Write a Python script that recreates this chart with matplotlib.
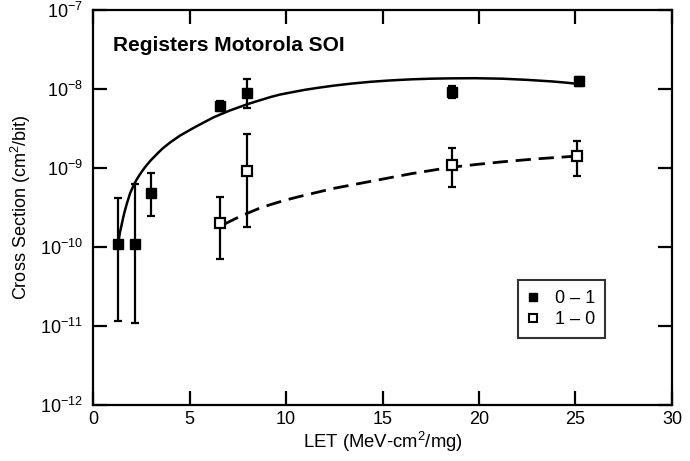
import matplotlib
matplotlib.use("Agg")
import matplotlib.pyplot as plt
from matplotlib.ticker import FixedLocator
from matplotlib.lines import Line2D

plt.rcParams['font.family'] = ['Liberation Sans', 'DejaVu Sans']
plt.rcParams['mathtext.fontset'] = 'custom'
plt.rcParams['mathtext.rm'] = 'Liberation Sans'
plt.rcParams['mathtext.it'] = 'Liberation Sans:italic'
plt.rcParams['mathtext.bf'] = 'Liberation Sans:bold'

# Series "0 - 1" (filled squares)
let_01 = [1.3, 2.2, 3.0, 6.6, 8.0, 18.6, 25.2]
cs_01 = [1.1e-10, 1.1e-10, 4.9e-10, 6.1e-9, 8.8e-9, 9.2e-9, 1.26e-8]
lo_01 = [1.15e-11, 1.1e-11, 2.5e-10, 5.3e-9, 5.7e-9, 7.8e-9, 1.1e-8]
hi_01 = [4.2e-10, 6.3e-10, 8.7e-10, 7.0e-9, 1.34e-8, 1.08e-8, 1.42e-8]

# Series "1 - 0" (open squares)
let_10 = [6.6, 8.0, 18.6, 25.1]
cs_10 = [2.0e-10, 9.1e-10, 1.1e-9, 1.42e-9]
lo_10 = [7.0e-11, 1.8e-10, 5.7e-10, 7.9e-10]
hi_10 = [4.3e-10, 2.7e-9, 1.8e-9, 2.2e-9]

# Fit curves
fit01_x = [1.3, 1.4, 1.5, 1.57, 1.65, 1.75, 1.92, 2.1, 2.25, 2.43, 2.6, 2.77, 3.0, 3.2, 3.4,
           3.64, 4.0, 4.5, 5.0, 5.37, 5.8, 6.23, 6.65, 7.1, 7.5, 7.95, 8.4, 8.8, 9.2, 9.67,
           10.3, 11.0, 11.7, 12.5, 13.4, 14.35, 15.4, 16.5, 17.5, 18.5, 19.8, 21.2, 22.5,
           23.8, 24.5, 25.1]
fit01_y = [1.10e-10, 1.55e-10, 2.0e-10, 2.4e-10, 2.88e-10, 3.52e-10, 4.79e-10, 6.03e-10,
           7.08e-10, 8.32e-10, 9.55e-10, 1.084e-9, 1.259e-9, 1.413e-9, 1.585e-9, 1.799e-9,
           2.113e-9, 2.57e-9, 3.02e-9, 3.39e-9, 3.85e-9, 4.37e-9, 4.84e-9, 5.37e-9, 5.82e-9,
           6.38e-9, 6.92e-9, 7.41e-9, 7.94e-9, 8.51e-9, 9.12e-9, 9.82e-9, 1.042e-8, 1.109e-8,
           1.175e-8, 1.236e-8, 1.288e-8, 1.33e-8, 1.355e-8, 1.368e-8, 1.374e-8, 1.355e-8,
           1.309e-8, 1.250e-8, 1.208e-8, 1.167e-8]
fit10_x = [6.8, 7.4, 8.0, 8.6, 9.2, 10.0, 11.0, 12.5, 14.4, 16.5, 18.5, 20.0, 21.2, 23.0, 25.1]
fit10_y = [1.95e-10, 2.3e-10, 2.68e-10, 3.08e-10, 3.45e-10, 3.95e-10, 4.55e-10, 5.55e-10,
           6.8e-10, 8.5e-10, 1.02e-9, 1.12e-9, 1.2e-9, 1.31e-9, 1.42e-9]

title_text = "Registers Motorola SOI"
legend_labels = ['0 – 1', '1 – 0']
x_ticks = [0, 5, 10, 15, 20, 25, 30]
y_decades = [-12, -11, -10, -9, -8, -7]

fig = plt.figure(figsize=(6.9, 4.61), dpi=100)
ax = fig.add_axes([0.1348, 0.1215, 0.9739 - 0.1348, 0.978 - 0.1215])

ax.plot(fit01_x, fit01_y, color='black', lw=1.8, solid_capstyle='round', solid_joinstyle='round')
ax.plot(fit10_x, fit10_y, color='black', lw=2.0, dashes=(5.5, 2.8))

err01 = [[c - l for c, l in zip(cs_01, lo_01)], [h - c for c, h in zip(cs_01, hi_01)]]
err10 = [[c - l for c, l in zip(cs_10, lo_10)], [h - c for c, h in zip(cs_10, hi_10)]]

ax.errorbar(let_01, cs_01, yerr=err01, fmt='s', color='black', ms=7.5, mfc='black',
            mec='black', elinewidth=1.6, capsize=3, capthick=1.6, zorder=3)
ax.errorbar(let_10, cs_10, yerr=err10, fmt='s', color='black', ms=7, mfc='white',
            mec='black', mew=1.6, elinewidth=1.6, capsize=3, capthick=1.6, zorder=3)

ax.set_yscale('log')
ax.set_xlim(0, 30)
ax.set_ylim(1e-12, 1e-7)
ax.xaxis.set_major_locator(FixedLocator(x_ticks))
ax.yaxis.set_major_locator(FixedLocator([10.0 ** d for d in y_decades]))
ax.yaxis.set_minor_locator(FixedLocator([]))
ax.set_xticklabels([str(t) for t in x_ticks])
ax.set_yticklabels([r'$10^{%d}$' % d for d in y_decades])
ax.tick_params(axis='both', which='major', direction='in', length=10, width=1.6,
               top=True, right=True, labelsize=13, colors='black')
ax.tick_params(axis='x', pad=4)
ax.tick_params(axis='y', pad=7)
for s in ax.spines.values():
    s.set_linewidth(1.6)

ax.set_xlabel('LET (MeV-cm$^{2}$/mg)', fontsize=13.3, labelpad=2)
ax.set_ylabel('Cross Section (cm$^{2}$/bit)', fontsize=13, labelpad=5)

ax.text(0.035, 0.911, title_text, transform=ax.transAxes, fontsize=15,
        fontweight='bold', va='center', ha='left')

handles = [Line2D([], [], ls='none', marker='s', ms=5.5, mfc='black', mec='black'),
           Line2D([], [], ls='none', marker='s', ms=5.5, mfc='white', mec='black', mew=1.5)]
leg = ax.legend(handles, legend_labels, loc='lower left', bbox_to_anchor=(0.734, 0.17),
                frameon=True, fancybox=False, edgecolor='black', fontsize=13,
                handlelength=0.6, handletextpad=0.9, borderpad=0.55,
                labelspacing=0.2, borderaxespad=0)
leg.get_frame().set_linewidth(1.5)

fig.savefig('out.png', dpi=100)
